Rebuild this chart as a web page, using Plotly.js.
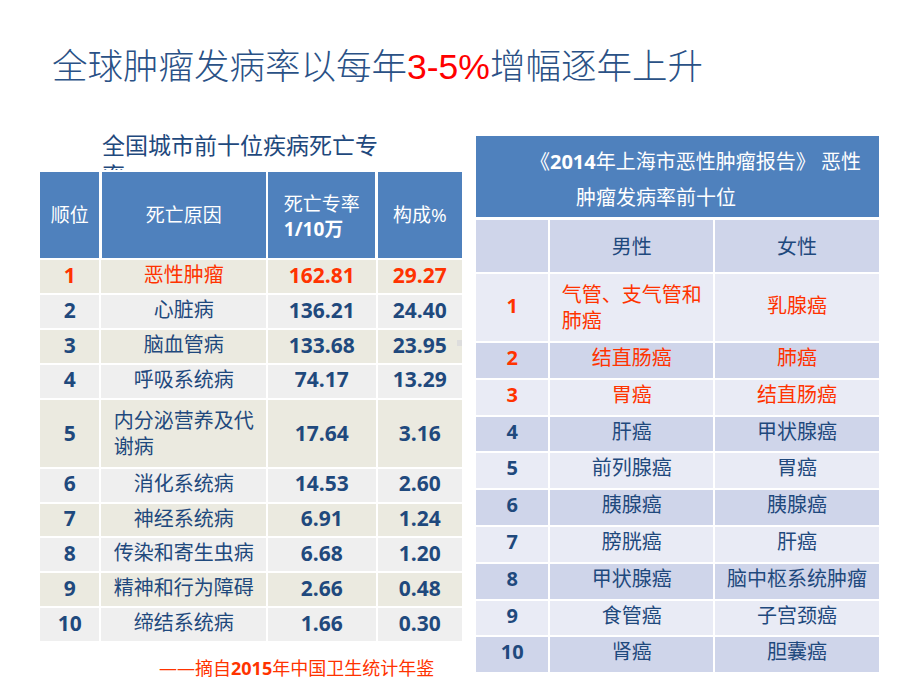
<!DOCTYPE html>
<html><head><meta charset="utf-8">
<script src="https://cdn.plot.ly/plotly-3.0.1.min.js"></script>
<style>html,body{margin:0;padding:0;background:#fff}#chart{width:920px;height:690px}</style>
</head><body><div id="chart"></div>
<script>
// ---- Left table data: 全国城市前十位疾病死亡专率 ----
const leftHeadersSingle = ["顺位", "死亡原因", "", "构成%"];
const leftHeadersDouble = ["", "", "死亡专率<br><b>1/10万</b>", ""];
const ranks = [1, 2, 3, 4, 5, 6, 7, 8, 9, 10];
const causes = ["恶性肿瘤", "心脏病", "脑血管病", "呼吸系统病", "内分泌营养及代<br>谢病", "消化系统病", "神经系统病", "传染和寄生虫病", "精神和行为障碍", "缔结系统病"];
const rates = [162.81, 136.21, 133.68, 74.17, 17.64, 14.53, 6.91, 6.68, 2.66, 1.66];
const shares = [29.27, 24.40, 23.95, 13.29, 3.16, 2.60, 1.24, 1.20, 0.48, 0.30];

// ---- Right table data: 2014年上海市恶性肿瘤报告 ----
const rightTitle = ["《<b>2014</b>年上海市恶性肿瘤报告》 恶性", "肿瘤发病率前十位"];
const rightHeaders = ["", "男性", "女性"];
const cancerRanks = [1, 2, 3, 4, 5, 6, 7, 8, 9, 10];
const maleCancers = ["气管、支气管和<br>肺癌", "结直肠癌", "胃癌", "肝癌", "前列腺癌", "胰腺癌", "膀胱癌", "甲状腺癌", "食管癌", "肾癌"];
const femaleCancers = ["乳腺癌", "肺癌", "结直肠癌", "甲状腺癌", "胃癌", "胰腺癌", "肝癌", "脑中枢系统肿瘤", "子宫颈癌", "胆囊癌"];

const mainTitle = "全球肿瘤发病率以每年<span style='color:#FF0000;font-family:Liberation Sans,Arial'>3-5%</span>增幅逐年上升";
const leftCaption = "全国城市前十位疾病死亡专<br>率";
const sourceNote = "——摘自<b>2015</b>年中国卫生统计年鉴";

const BLUE = "#1F497D", RED = "#FF3300", HEAD = "#4F81BD";
const FONT = "Open Sans, Noto Sans CJK SC, sans-serif";
const W = 920, H = 690;
const px = v => v / W, py = v => 1 - v / H;
const CLEAR = "rgba(0,0,0,0)";

const leftFont = ranks.map(r => r === 1 ? RED : BLUE);
const leftFill = ranks.map((r, i) => i % 2 === 0 ? "#EBEAE0" : "#EFEFEF");
const rightFont = cancerRanks.map(r => r <= 3 ? RED : BLUE);
const rightFill = cancerRanks.map((r, i) => i % 2 === 0 ? "#E9EBF5" : "#CFD5EA");

const LX = [px(39), px(463)], LCW = [61, 166, 109, 86];
const RX = [px(475), px(880)], RCW = [74, 164, 165];

// rows whose wrapped text makes them taller: their one-line cells are drawn centred by a text layer
const isWrapped = s => String(s).indexOf("<br>") >= 0;
const leftTall = causes.findIndex(isWrapped);
const rightTall = maleCancers.findIndex(isWrapped);

const leftCols = [ranks.map(String), causes, rates.map(v => v.toFixed(2)), shares.map(v => v.toFixed(2))];
const leftMain = leftCols.map(col => col.map((v, i) => (i === leftTall && !isWrapped(v)) ? "" : v));
const leftTallRow = leftCols.map(col => isWrapped(col[leftTall]) ? "" : col[leftTall]);

const rightCols = [cancerRanks.map(String), maleCancers, femaleCancers];
const rightMain = rightCols.map(col => col.map((v, i) => (i === rightTall && !isWrapped(v)) ? "" : v));
const rightTallRow = rightCols.map(col => isWrapped(col[rightTall]) ? "" : col[rightTall]);

// header-only text layer placed over a table
function textLayer(xdom, top, cw, values, font) {
  return {
    type: "table", domain: {x: xdom, y: [0, py(top)]}, columnwidth: cw,
    header: {values: values, align: "center", height: 30,
      fill: {color: CLEAR}, line: {width: 0, color: CLEAR}, font: font},
    cells: {values: values.map(() => [""]), height: 20,
      fill: {color: CLEAR}, line: {width: 0, color: CLEAR}}
  };
}

const traces = [
  // caption behind the left table (second line partly hidden by its header)
  {
    type: "table",
    domain: {x: [px(94), px(470)], y: [py(240), py(121)]},
    columnwidth: [1],
    header: {values: [leftCaption], align: "left", height: 50,
      fill: {color: CLEAR}, line: {width: 0, color: CLEAR},
      font: {family: FONT, size: 23, color: BLUE}},
    cells: {values: [[""]], height: 20, fill: {color: CLEAR}, line: {width: 0, color: CLEAR}}
  },
  {
    type: "table",
    domain: {x: LX, y: [0, py(171)]},
    columnwidth: LCW,
    header: {values: ["", "", "", ""], align: "center", height: 88,
      fill: {color: HEAD}, line: {width: 2.5, color: "#FFFFFF"},
      font: {family: FONT, size: 19, color: "#FFFFFF"}},
    cells: {values: leftMain, align: "center", height: 34.9,
      fill: {color: [leftFill, leftFill, leftFill, leftFill]},
      line: {width: 2, color: "#FFFFFF"},
      font: {family: FONT, size: [21, 20, 21, 21], weight: [700, 400, 700, 700],
             color: [leftFont, leftFont, leftFont, leftFont]}}
  },
  textLayer(LX, 200, LCW, leftHeadersSingle, {family: FONT, size: 19, color: "#FFFFFF"}),
  textLayer(LX, 183, LCW, leftHeadersDouble, {family: FONT, size: 19, color: "#FFFFFF"}),
  textLayer(LX, 417, LCW, leftTallRow, {family: FONT, size: [21, 20, 21, 21], weight: [700, 400, 700, 700],
    color: leftCols.map(() => leftFont[leftTall])}),
  {
    type: "table",
    domain: {x: RX, y: [py(240), py(135)]},
    columnwidth: [1],
    header: {values: [""], height: 83, fill: {color: HEAD}, line: {width: 2, color: "#FFFFFF"}},
    cells: {values: [[""]], height: 20, fill: {color: CLEAR}, line: {width: 0, color: CLEAR}}
  },
  {
    type: "table",
    domain: {x: RX, y: [0, py(219)]},
    columnwidth: RCW,
    header: {values: ["", "", ""], align: "center", height: 54,
      fill: {color: "#CFD5EA"}, line: {width: 2, color: "#FFFFFF"},
      font: {family: FONT, size: 20, color: BLUE}},
    cells: {values: rightMain, align: "center", height: 36.8,
      fill: {color: [rightFill, rightFill, rightFill]},
      line: {width: 2, color: "#FFFFFF"},
      font: {family: FONT, size: [20, 20, 20], weight: [700, 400, 400],
             color: [rightFont, rightFont, rightFont]}}
  },
  textLayer(RX, 231, RCW, rightHeaders, {family: FONT, size: 20, color: BLUE}),
  textLayer(RX, 290, RCW, rightTallRow, {family: FONT, size: [20, 20, 20], weight: [700, 400, 400],
    color: rightCols.map(() => rightFont[rightTall])})
];

const layout = {
  width: W, height: H,
  margin: {l: 0, r: 0, t: 0, b: 0},
  paper_bgcolor: "#FFFFFF",
  showlegend: false,
  shapes: [
    {type: "rect", xref: "paper", yref: "paper", x0: px(457), x1: px(462), y0: py(346), y1: py(340),
     fillcolor: "#DDDDDD", line: {width: 0}}
  ],
  annotations: [
    {text: mainTitle, x: px(50), y: py(63), xref: "paper", yref: "paper", xanchor: "left", yanchor: "middle",
     showarrow: false, font: {family: "Noto Sans CJK SC, sans-serif", size: 35.5, color: "#2A5186", weight: 300}},
    {text: rightTitle[0], x: px(528), y: py(162), xref: "paper", yref: "paper", xanchor: "left", yanchor: "middle",
     showarrow: false, font: {family: FONT, size: 20, color: "#FFFFFF"}},
    {text: rightTitle[1], x: px(574), y: py(197), xref: "paper", yref: "paper", xanchor: "left", yanchor: "middle",
     showarrow: false, font: {family: FONT, size: 20, color: "#FFFFFF"}},
    {text: sourceNote, x: px(157), y: py(668), xref: "paper", yref: "paper", xanchor: "left", yanchor: "middle",
     showarrow: false, font: {family: FONT, size: 18, color: RED}}
  ]
};

Plotly.newPlot("chart", traces, layout, {displayModeBar: false, staticPlot: true});
</script>
</body></html>
